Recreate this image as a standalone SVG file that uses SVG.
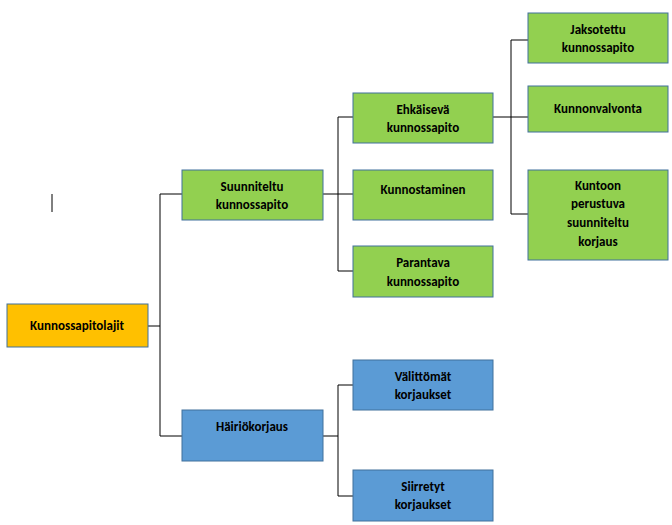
<svg xmlns="http://www.w3.org/2000/svg" width="672" height="525" viewBox="0 0 672 525">
<style>
.n{stroke:#41719C;stroke-width:1}
.g{fill:#92D050}.b{fill:#5B9BD5}.o{fill:#FFC000}
text{font-family:Calibri,"Liberation Sans",Arial,sans-serif;font-size:13px;font-weight:bold;fill:#000;text-anchor:middle}
.c line{stroke:#000;stroke-width:1}
</style>
<rect width="672" height="525" fill="#fff"/>
<g class="c">
<line x1="148" y1="326" x2="160" y2="326"/>
<line x1="160" y1="194" x2="160" y2="436"/>
<line x1="160" y1="194" x2="182" y2="194"/>
<line x1="160" y1="436" x2="182" y2="436"/>
<line x1="323" y1="194" x2="353" y2="194"/>
<line x1="338" y1="117" x2="338" y2="271"/>
<line x1="338" y1="117" x2="353" y2="117"/>
<line x1="338" y1="271" x2="353" y2="271"/>
<line x1="323" y1="436" x2="338" y2="436"/>
<line x1="338" y1="385" x2="338" y2="496"/>
<line x1="338" y1="385" x2="353" y2="385"/>
<line x1="338" y1="496" x2="353" y2="496"/>
<line x1="493" y1="117" x2="528" y2="117"/>
<line x1="511" y1="40" x2="511" y2="214"/>
<line x1="511" y1="40" x2="528" y2="40"/>
<line x1="511" y1="214" x2="528" y2="214"/>
<line x1="52" y1="194" x2="52" y2="212"/>
</g>
<g id="kunnossapitolajit"><rect class="n o" x="7" y="304" width="141" height="43"/><text x="77" y="330">Kunnossapitolajit</text></g>
<g id="suunniteltu"><rect class="n g" x="182" y="170" width="141" height="50"/><text x="252" y="191">Suunniteltu</text><text x="252" y="209">kunnossapito</text></g>
<g id="hairiokorjaus"><rect class="n b" x="182" y="410" width="141" height="51"/><text x="252" y="431">Häiriökorjaus</text></g>
<g id="ehkaiseva"><rect class="n g" x="353" y="93" width="140" height="50"/><text x="423" y="114">Ehkäisevä</text><text x="423" y="132">kunnossapito</text></g>
<g id="kunnostaminen"><rect class="n g" x="353" y="170" width="140" height="50"/><text x="423" y="194">Kunnostaminen</text></g>
<g id="parantava"><rect class="n g" x="353" y="246" width="140" height="51"/><text x="423" y="267">Parantava</text><text x="423" y="286">kunnossapito</text></g>
<g id="valittomat"><rect class="n b" x="353" y="360" width="140" height="50"/><text x="423" y="381">Välittömät</text><text x="423" y="399">korjaukset</text></g>
<g id="siirretyt"><rect class="n b" x="353" y="470" width="140" height="51"/><text x="423" y="491">Siirretyt</text><text x="423" y="509">korjaukset</text></g>
<g id="jaksotettu"><rect class="n g" x="528" y="13" width="140" height="50"/><text x="598" y="34">Jaksotettu</text><text x="598" y="52">kunnossapito</text></g>
<g id="kunnonvalvonta"><rect class="n g" x="528" y="86" width="140" height="46"/><text x="598" y="113">Kunnonvalvonta</text></g>
<g id="kuntoon"><rect class="n g" x="528" y="170" width="140" height="90"/><text x="598" y="190">Kuntoon</text><text x="598" y="208">perustuva</text><text x="598" y="227">suunniteltu</text><text x="598" y="246">korjaus</text></g>
</svg>
